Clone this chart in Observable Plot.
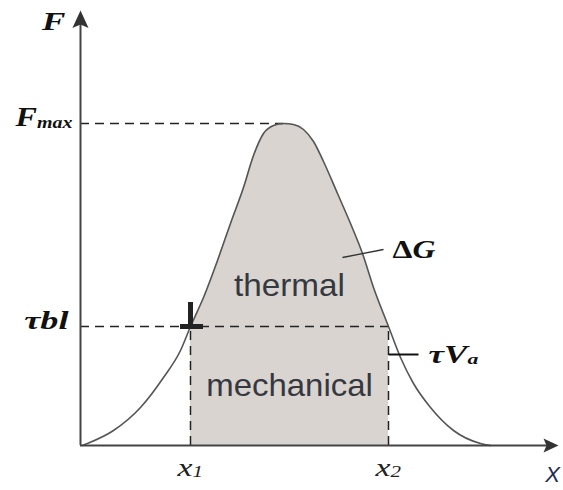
<!DOCTYPE html>
<html>
<head>
<meta charset="utf-8">
<script src="https://cdn.jsdelivr.net/npm/d3@7"></script>
<script src="https://cdn.jsdelivr.net/npm/@observablehq/plot@0.6"></script>
<style>
  body { margin: 0; background: #fff; }
  #chart svg { display: block; }
</style>
</head>
<body>
<div id="chart"></div>
<script>
// Barrier profile F(x): sampled positions along x and the force F at each
const curveX = [2, 7, 33, 60, 83, 100, 110, 123, 137, 150, 163, 173, 183, 193, 203,
                213, 223, 233, 243, 257, 270, 282, 293, 308, 320, 333, 350, 373, 400, 410];
const curveF = [0, 2, 15, 38, 68, 95, 119, 148, 185, 222, 258, 290, 312, 320, 322,
                321, 316, 304, 284, 252, 222, 192, 158, 119, 88, 62, 38, 15, 2, 0];

// Key levels and positions
const xMax = 478;      // end of the x axis
const yMax = 435;      // end of the F axis
const Fmax = 322;      // peak force
const peakX = 203;     // position of the peak
const tauBL = 119;     // applied stress level τbl
const x1 = 110;        // left crossing of τbl
const x2 = 308;        // right crossing of τbl

// Labels
const yTickLabels = ["F_max", "τbl"];
const xTickLabels = ["x_1", "x_2"];
const regionLabels = ["thermal", "mechanical"];
const curveLabel = "ΔG";
const workLabel = "τV_a";
const axisLabelY = "F";
const axisLabelX = "X";

const profile = curveX.map((x, i) => ({x, F: curveF[i]}));
const shaded = profile.filter(d => d.x >= x1 && d.x <= x2);

// Arrowhead symbols with the tip at the anchor point
function arrowhead(dir) {
  return {
    draw(ctx, size) {
      const k = Math.sqrt(size / Math.PI);
      const L = 2.5 * k, w = 1.15 * k, n = 2.0 * k;
      if (dir === "up") {
        ctx.moveTo(0, 0); ctx.lineTo(w, L); ctx.lineTo(0, n); ctx.lineTo(-w, L); ctx.closePath();
      } else {
        ctx.moveTo(0, 0); ctx.lineTo(-L, -w); ctx.lineTo(-n, 0); ctx.lineTo(-L, w); ctx.closePath();
      }
    }
  };
}

const serif = "'Liberation Serif', 'DejaVu Serif', serif";
const sans = "'Liberation Sans', Arial, sans-serif";
const dash = {stroke: "#222", strokeWidth: 1.5, strokeDasharray: "9,6"};
const serifBold = {fontFamily: serif, fontWeight: "bold", fontStyle: "italic", fill: "#111"};

const chart = Plot.plot({
  width: 563,
  height: 490,
  marginLeft: 80,
  marginRight: 5,
  marginTop: 10,
  marginBottom: 45,
  x: {domain: [0, xMax], axis: null},
  y: {domain: [0, yMax], axis: null},
  marks: [
    // region between x1 and x2 under the curve
    Plot.areaY(shaded, {x: "x", y: "F", fill: "#d9d4d0", curve: "monotone-x"}),

    // guide lines
    Plot.ruleY([Fmax], {x1: 0, x2: peakX, ...dash}),
    Plot.ruleY([tauBL], {x1: 0, x2: x2, ...dash}),
    Plot.ruleX([x1, x2], {y1: 0, y2: tauBL, ...dash}),

    // the barrier curve
    Plot.line(profile, {x: "x", y: "F", stroke: "#555", strokeWidth: 1.6, curve: "monotone-x"}),

    // marker at (x1, τbl)
    Plot.ruleX([x1], {y1: tauBL, y2: tauBL + 24, stroke: "#222", strokeWidth: 5}),
    Plot.ruleY([tauBL], {x1: x1 - 10, x2: x1 + 13, stroke: "#222", strokeWidth: 5}),

    // axes with arrowheads
    Plot.ruleX([0], {y1: 0, y2: yMax - 4, stroke: "#444", strokeWidth: 2}),
    Plot.ruleY([0], {x1: 0, x2: xMax - 4, stroke: "#444", strokeWidth: 2}),
    Plot.dot([yMax], {x: 0, y: d => d, symbol: arrowhead("up"), r: 7, fill: "#333", stroke: null}),
    Plot.dot([xMax], {x: d => d, y: 0, symbol: arrowhead("right"), r: 6, fill: "#333", stroke: null}),

    // leader lines
    Plot.link([{a: 262, b: 188, c: 303, d: 196}], {x1: "a", y1: "b", x2: "c", y2: "d", stroke: "#333", strokeWidth: 1.3}),
    Plot.link([{a: x2, b: 91, c: x2 + 30, d: 91}], {x1: "a", y1: "b", x2: "c", y2: "d", stroke: "#111", strokeWidth: 2}),

    // axis labels
    Plot.text([axisLabelY], {x: 0, y: yMax, text: d => d, dx: -15, dy: 11, textAnchor: "end",
      ...serifBold, fontSize: 26}),
    Plot.text([axisLabelX], {x: xMax, y: 0, text: d => d, dx: -6, dy: 29, textAnchor: "middle",
      fontFamily: sans, fontStyle: "italic", fontSize: 22, fill: "#1d2b55"}),

    // tick labels on F
    Plot.text([Fmax], {x: 0, y: d => d, text: () => yTickLabels[0], dx: -8, dy: -6, textAnchor: "end",
      ...serifBold, fontSize: 28}),
    Plot.text([tauBL], {x: 0, y: d => d, text: () => yTickLabels[1], dx: -12, dy: -6, textAnchor: "end",
      ...serifBold, fontSize: 25}),

    // tick labels on x
    Plot.text([x1, x2], {x: d => d, y: 0, text: (d, i) => xTickLabels[i], dx: -13, dy: 22, textAnchor: "start",
      fontFamily: serif, fontStyle: "italic", fontSize: 26, fill: "#222"}),

    // region labels
    Plot.text([regionLabels[0]], {x: (x1 + x2) / 2, y: tauBL + 41, text: d => d,
      fontFamily: sans, fontSize: 32, fill: "#35383f"}),
    Plot.text([regionLabels[1]], {x: (x1 + x2) / 2, y: tauBL / 2, text: d => d,
      fontFamily: sans, fontSize: 32, fill: "#35383f"}),

    // curve and work labels
    Plot.text([curveLabel], {x: 303, y: 196, text: d => d, dx: 9, textAnchor: "start",
      ...serifBold, fontSize: 26}),
    Plot.text([workLabel], {x: x2 + 30, y: 91, text: d => d, dx: 10, textAnchor: "start",
      ...serifBold, fontSize: 25})
  ]
});

// Horizontal widening of the lettering, per label
const widen = new Map([
  ["F", 1.35], ["F_max", 1.15], ["τbl", 1.45], ["x_1", 1.3], ["x_2", 1.3],
  ["ΔG", 1.22], ["τV_a", 1.4], ["thermal", 1.04], ["mechanical", 1.03]
]);

d3.select(chart).selectAll("text").each(function () {
  const t = this.textContent;
  const el = d3.select(this);
  const s = widen.get(t) || 1;
  // subscripts ("_") and an upright Δ
  if (t.includes("_")) {
    const [base, sub] = t.split("_");
    el.text(null);
    el.append("tspan").text(base);
    el.append("tspan").attr("font-size", "0.62em").attr("dy", "0.1em").text(sub);
  } else if (t.startsWith("Δ")) {
    el.text(null);
    el.append("tspan").attr("font-style", "normal").text("Δ");
    el.append("tspan").text(t.slice(1));
  }
  if (s !== 1) {
    const tr = el.attr("transform") || "";
    const x = parseFloat(el.attr("x")) || 0;
    el.attr("x", null);
    el.attr("transform", `${tr} translate(${x},0) scale(${s},1)`);
  }
});

document.getElementById("chart").append(chart);
</script>
</body>
</html>
